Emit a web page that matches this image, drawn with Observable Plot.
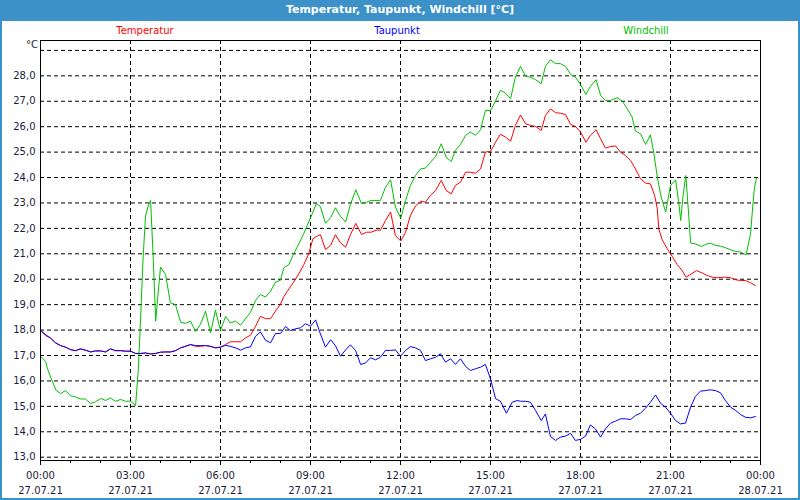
<!DOCTYPE html>
<html>
<head>
<meta charset="utf-8">
<script src="https://cdn.jsdelivr.net/npm/d3@7"></script>
<script src="https://cdn.jsdelivr.net/npm/@observablehq/plot@0.6"></script>
<style>
  html, body { margin: 0; padding: 0; background: #fff; }
  #wrap { position: relative; width: 800px; height: 500px; overflow: hidden; background: #fff;
          font-family: Tahoma, "DejaVu Sans", "Liberation Sans", sans-serif; }
  #chart { position: absolute; left: 0; top: 0; }
  #title { position: absolute; left: 0; top: 0; width: 800px; height: 21px; background: #3c91c8;
           color: #fff; font-weight: bold; font-size: 11px; line-height: 20px; text-align: center; }
  #border { position: absolute; left: 0; top: 0; width: 800px; height: 500px; box-sizing: border-box;
            border: 2px solid #3c91c8; pointer-events: none; }
  .leg { position: absolute; top: 25px; font-size: 10px; transform: translateX(-50%); white-space: nowrap; }
  #unit { position: absolute; left: 26px; top: 39px; font-size: 10px; color: #1c1c3c; }
</style>
</head>
<body>
<div id="wrap">
  <div id="chart"></div>
  <div id="title">Temperatur, Taupunkt, Windchill [°C]</div>
  <div class="leg" style="left:145px;color:#ff0000">Temperatur</div>
  <div class="leg" style="left:397px;color:#0000ff">Taupunkt</div>
  <div class="leg" style="left:646px;color:#00c000">Windchill</div>
  <div id="unit">°C</div>
  <div id="border"></div>
</div>
<script>
// ---- axis definitions ----
const xTicks = [0, 3, 6, 9, 12, 15, 18, 21, 24];
const xTimeLabels = ["00:00", "03:00", "06:00", "09:00", "12:00", "15:00", "18:00", "21:00", "00:00"];
const xDateLabels = ["27.07.21", "27.07.21", "27.07.21", "27.07.21", "27.07.21", "27.07.21", "27.07.21", "27.07.21", "28.07.21"];
const xGrid = [3, 6, 9, 12, 15, 18, 21];
const hourTicks = [0, 1, 2, 3, 4, 5, 6, 7, 8, 9, 10, 11, 12, 13, 14, 15, 16, 17, 18, 19, 20, 21, 22, 23, 24];
const yLabels = [13, 14, 15, 16, 17, 18, 19, 20, 21, 22, 23, 24, 25, 26, 27, 28];
const yGrid = [13, 14, 15, 16, 17, 18, 19, 20, 21, 22, 23, 24, 25, 26, 27, 28, 29];

// ---- Temperatur (hours of day, °C) ----
const tempHours = [0, 0.17, 0.33, 0.5, 0.67, 0.83, 1, 1.17, 1.33, 1.5, 1.67, 1.83, 2, 2.17, 2.33, 2.5, 2.67, 2.83, 3, 3.17, 3.33, 3.5, 3.67, 3.83, 4, 4.17, 4.33, 4.5, 4.67, 4.83, 5, 5.17, 5.33, 5.5, 5.67, 5.83, 6,
  6.17, 6.33, 6.5, 6.67, 6.83, 7, 7.17, 7.33, 7.5, 7.67, 7.83,
  8, 8.11, 8.28, 8.44, 8.61, 8.78, 8.94, 9.08, 9.19, 9.33, 9.5, 9.67, 9.83, 10, 10.17, 10.33, 10.51, 10.7, 10.87, 11.02, 11.22, 11.33, 11.5, 11.67, 11.83, 12.01, 12.17, 12.33, 12.5, 12.67, 12.83, 13, 13.17, 13.36, 13.52, 13.69, 13.83, 14, 14.17, 14.33, 14.5, 14.67, 14.83, 15.01, 15.17, 15.33, 15.5, 15.67, 15.83,
  16, 16.17, 16.33, 16.5, 16.69, 16.83, 17, 17.17, 17.33, 17.5, 17.67, 17.83, 18, 18.18, 18.33, 18.52, 18.67, 18.83, 19, 19.17, 19.33, 19.5, 19.67, 19.83, 20, 20.17, 20.33, 20.47, 20.56, 20.61, 20.72, 20.89, 21.06, 21.22, 21.37, 21.52, 21.69, 21.87, 22.06, 22.22, 22.39, 22.56, 22.8, 23, 23.17, 23.33, 23.5, 23.67, 23.83];
const tempValues = [18.0, 17.78, 17.69, 17.5, 17.39, 17.33, 17.23, 17.19, 17.26, 17.21, 17.14, 17.18, 17.18, 17.14, 17.26, 17.19, 17.19, 17.17, 17.17, 17.08, 17.08, 17.1, 17.06, 17.08, 17.13, 17.14, 17.14, 17.19, 17.3, 17.36, 17.43, 17.36, 17.36, 17.39, 17.36, 17.3, 17.33,
  17.43, 17.54, 17.54, 17.54, 17.69, 17.8, 18.15, 18.54, 18.45, 18.45, 18.74,
  19.02, 19.32, 19.62, 19.89, 20.21, 20.58, 21.0, 21.59, 21.68, 21.75, 21.17, 21.33, 21.75, 21.43, 21.26, 21.75, 22.2, 21.76, 21.85, 21.85, 21.94, 21.92, 22.31, 22.64, 21.72, 21.5, 21.85, 22.51, 22.88, 23.07, 23.03, 23.3, 23.49, 23.89, 23.49, 23.36, 23.69, 23.82, 24.21, 24.21, 24.17, 24.34, 25.0, 25.04, 25.39, 25.7, 25.59, 25.43, 26.05,
  26.46, 26.11, 26.05, 26.01, 25.85, 26.44, 26.7, 26.55, 26.53, 26.48, 26.09, 26.01, 25.79, 25.39, 25.66, 25.88, 25.52, 25.16, 25.22, 25.24, 25.0, 24.87, 24.67, 24.34, 23.95, 23.78, 23.75, 23.3, 22.77, 21.98, 21.56, 21.2, 20.89, 20.58, 20.37, 20.08, 20.21, 20.34, 20.24, 20.15, 20.08, 20.06, 20.08, 20.06, 19.98, 19.95, 19.95, 19.86, 19.75];

// ---- Taupunkt ----
const dewHours = [0, 0.17, 0.33, 0.5, 0.67, 0.83, 1, 1.17, 1.33, 1.5, 1.67, 1.83, 2, 2.17, 2.33, 2.5, 2.67, 2.83, 3, 3.17, 3.33, 3.5, 3.67, 3.83, 4, 4.17, 4.33, 4.5, 4.67, 4.83, 5, 5.17, 5.33, 5.5, 5.67, 5.83, 6, 6.17, 6.33, 6.5, 6.67, 6.83, 7, 7.17, 7.33, 7.5, 7.67, 7.83,
  8, 8.17, 8.33, 8.5, 8.67, 8.83, 9, 9.17, 9.33, 9.5, 9.67, 9.83, 10, 10.17, 10.33, 10.5, 10.67, 10.83, 11, 11.17, 11.33, 11.5, 11.67, 11.83, 12, 12.17, 12.33, 12.5, 12.67, 12.83, 13, 13.17, 13.33, 13.5, 13.67, 13.83, 14, 14.17, 14.33, 14.5, 14.67, 14.83, 15, 15.17, 15.33, 15.53, 15.72, 15.89,
  16, 16.17, 16.33, 16.5, 16.69, 16.83, 17, 17.17, 17.33, 17.5, 17.67, 17.83, 18, 18.17, 18.33, 18.5, 18.67, 18.83, 19, 19.17, 19.33, 19.5, 19.67, 19.83, 20, 20.17, 20.33, 20.5, 20.67, 20.83, 21, 21.17, 21.33, 21.5, 21.67, 21.83, 22, 22.17, 22.33, 22.5, 22.67, 22.83, 23, 23.17, 23.33, 23.5, 23.67, 23.83];
const dewValues = [17.99, 17.82, 17.69, 17.5, 17.39, 17.33, 17.23, 17.19, 17.26, 17.21, 17.14, 17.18, 17.18, 17.14, 17.26, 17.19, 17.19, 17.17, 17.17, 17.08, 17.08, 17.1, 17.06, 17.08, 17.13, 17.14, 17.14, 17.19, 17.3, 17.36, 17.43, 17.39, 17.39, 17.39, 17.36, 17.3, 17.33, 17.4, 17.36, 17.3, 17.21, 17.3, 17.34, 17.76, 17.93, 17.6, 17.5, 17.86,
  17.87, 18.14, 17.98, 18.05, 18.09, 18.25, 18.15, 18.4, 17.85, 17.33, 17.62, 17.39, 16.97, 17.22, 17.42, 17.2, 16.65, 16.7, 16.91, 16.83, 16.93, 17.2, 17.2, 17.22, 16.97, 17.2, 17.35, 17.3, 17.2, 16.8, 16.87, 16.93, 17.07, 16.74, 16.87, 16.65, 16.87, 16.57, 16.41, 16.48, 16.54, 16.65, 16.08, 15.3, 15.2, 14.73, 15.16, 15.23,
  15.2, 15.2, 15.16, 14.84, 14.44, 14.7, 13.81, 13.66, 13.79, 13.83, 13.94, 13.66, 13.7, 13.83, 14.27, 14.11, 13.79, 14.11, 14.34, 14.42, 14.51, 14.51, 14.48, 14.64, 14.73, 14.93, 15.16, 15.45, 15.12, 14.97, 14.73, 14.44, 14.31, 14.34, 14.97, 15.39, 15.6, 15.62, 15.65, 15.62, 15.53, 15.23, 14.97, 14.84, 14.68, 14.57, 14.55, 14.6];

// ---- Windchill ----
const wcHours = [0, 0.17, 0.24, 0.39, 0.52, 0.67, 0.83, 1, 1.17, 1.33, 1.5, 1.67, 1.83, 2.02, 2.17, 2.33, 2.5, 2.67, 2.83, 3, 3.17, 3.26, 3.33, 3.42, 3.5, 3.58, 3.67, 3.76, 3.84, 3.91, 4, 4.17, 4.33, 4.5, 4.67, 4.83, 5, 5.17, 5.33, 5.5, 5.67, 5.83, 6, 6.17, 6.33, 6.5, 6.67, 6.83, 7, 7.17, 7.33, 7.5, 7.67, 7.83,
  8, 8.11, 8.28, 8.44, 8.61, 8.78, 8.94, 9.08, 9.19, 9.33, 9.5, 9.67, 9.83, 10, 10.17, 10.33, 10.51, 10.7, 10.87, 11.02, 11.33, 11.5, 11.67, 11.83, 12.01, 12.17, 12.33, 12.5, 12.67, 12.83, 13, 13.17, 13.36, 13.52, 13.69, 13.83, 14, 14.17, 14.33, 14.5, 14.67, 14.83, 15.01, 15.17, 15.33, 15.5, 15.67, 15.83,
  16, 16.17, 16.33, 16.5, 16.69, 16.83, 17, 17.17, 17.33, 17.5, 17.67, 17.83, 18, 18.18, 18.33, 18.52, 18.67, 18.83, 19, 19.22, 19.39, 19.56, 19.72, 19.83, 20, 20.17, 20.33, 20.44, 20.56, 20.69, 20.84, 21, 21.17, 21.28, 21.34, 21.42, 21.51, 21.58, 21.67, 21.83, 22.03, 22.17, 22.33, 22.5, 22.67, 22.83, 23, 23.17, 23.33, 23.52, 23.67, 23.74, 23.8, 23.87];
const wcValues = [16.97, 16.77, 16.45, 16.0, 15.63, 15.5, 15.62, 15.42, 15.37, 15.29, 15.29, 15.11, 15.18, 15.31, 15.23, 15.33, 15.2, 15.27, 15.2, 15.2, 15.03, 16.45, 18.28, 20.84, 22.48, 22.84, 23.1, 20.77, 18.35, 19.33, 20.48, 20.18, 19.07, 19.0, 18.31, 18.26, 18.35, 17.95, 18.22, 18.74, 17.89, 18.78, 17.99, 18.54, 18.28, 18.35, 18.19, 18.44, 18.7, 19.17, 19.4, 19.3, 19.53, 19.88,
  19.96, 20.45, 20.58, 21.0, 21.39, 21.81, 22.25, 22.64, 22.97, 22.86, 22.2, 22.42, 22.81, 22.47, 22.25, 22.94, 23.52, 22.97, 23.03, 23.1, 23.1, 23.62, 23.91, 22.84, 22.4, 23.1, 23.69, 24.08, 24.34, 24.37, 24.6, 24.83, 25.33, 24.8, 24.63, 25.07, 25.3, 25.66, 25.79, 25.66, 25.88, 26.64, 26.64, 27.03, 27.43, 27.32, 27.1, 27.95,
  28.37, 27.98, 27.95, 27.85, 27.69, 28.37, 28.63, 28.48, 28.48, 28.37, 28.06, 27.95, 27.66, 27.27, 27.58, 27.85, 27.23, 27.03, 27.03, 27.14, 27.01, 26.7, 26.38, 25.83, 25.72, 25.3, 25.68, 25.0, 24.02, 23.23, 22.64, 23.69, 23.91, 22.97, 22.31, 23.3, 24.08, 22.97, 21.42, 21.39, 21.29, 21.37, 21.42, 21.33, 21.3, 21.24, 21.16, 21.09, 21.07, 20.96, 21.79, 22.84, 23.62, 23.99];

const toRows = (hs, vs) => hs.map((h, i) => ({h, v: vs[i]}));
const temp = toRows(tempHours, tempValues);
const dew = toRows(dewHours, dewValues);
const wc = toRows(wcHours, wcValues);

const labelColor = "#1c1c3c";
const dash = "4,3";

const chart = Plot.plot({
  width: 800,
  height: 500,
  marginLeft: 40,
  marginRight: 40,
  marginTop: 40,
  marginBottom: 40,
  x: {domain: [0, 24]},
  y: {domain: [12.87, 29.39]},
  style: {background: "transparent", fontFamily: 'Tahoma, "DejaVu Sans", "Liberation Sans", sans-serif', fontSize: "10px", color: labelColor},
  marks: [
    Plot.ruleY(yGrid, {stroke: "#000", strokeWidth: 1, strokeDasharray: dash}),
    Plot.ruleX(xGrid, {stroke: "#000", strokeWidth: 1, strokeDasharray: dash}),
    Plot.line(wc, {x: "h", y: "v", stroke: "#00c000", strokeWidth: 1}),
    Plot.line(temp, {x: "h", y: "v", stroke: "#ff0000", strokeWidth: 1}),
    Plot.line(dew, {x: "h", y: "v", stroke: "#0000ff", strokeWidth: 1}),
    Plot.frame({stroke: "#000", strokeWidth: 1}),
    Plot.axisY(yLabels, {tickSize: 0, tickPadding: 5, label: null, fill: labelColor,
      tickFormat: d => d.toFixed(1).replace(".", ",")}),
    Plot.axisX(hourTicks, {tickSize: 3, label: null, tickFormat: () => "", stroke: "#000"}),
    Plot.axisX(xTicks, {tickSize: 5, tickPadding: 2, label: null, lineHeight: 1.55, fill: labelColor, stroke: "#000",
      tickFormat: d => xTimeLabels[xTicks.indexOf(d)] + "\n" + xDateLabels[xTicks.indexOf(d)]})
  ]
});
document.getElementById("chart").appendChild(chart);
</script>
</body>
</html>
